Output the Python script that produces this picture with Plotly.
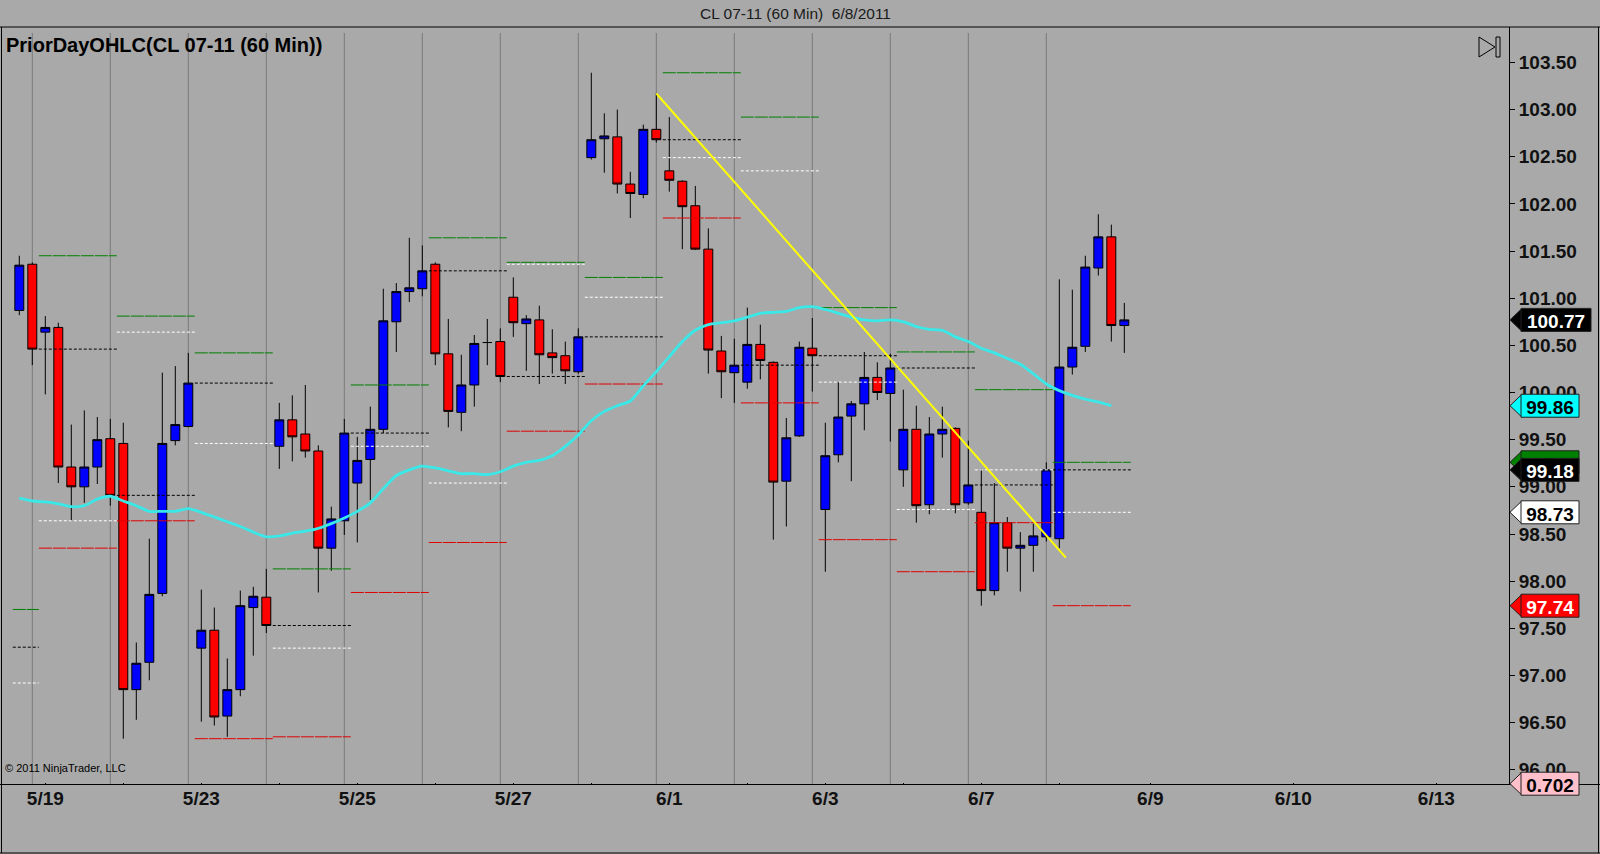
import plotly.graph_objects as go

# === DATA (CL 07-11, 60 min bars) ===
bar_open = [100.87, 101.36, 100.64, 100.69, 99.21, 99.00, 99.21, 99.51, 99.46, 96.85,
            97.14, 97.87, 99.49, 99.64, 97.29, 97.48, 96.57, 96.85, 97.72, 97.83,
            99.43, 99.71, 99.56, 99.38, 98.35, 98.64, 99.04, 99.29, 99.61, 100.75,
            101.07, 101.10, 101.36, 100.41, 99.79, 100.08, 100.53, 100.54, 101.01, 100.73,
            100.77, 100.42, 100.39, 100.22, 102.49, 102.69, 102.71, 102.21, 102.10, 102.79,
            102.35, 102.24, 101.98, 101.52, 100.44, 100.21, 100.11, 100.51, 100.32, 99.06,
            99.54, 100.47, 98.76, 99.34, 99.75, 99.88, 100.16, 99.99, 99.18, 99.61,
            98.81, 99.56, 99.62, 98.83, 98.73, 97.90, 98.62, 98.35, 98.38, 98.47,
            98.45, 100.27, 100.49, 101.32, 101.65, 100.71]
bar_high = [101.45, 101.38, 100.81, 100.74, 99.66, 99.81, 99.74, 99.72, 99.68, 97.35,
            98.45, 100.21, 100.28, 100.42, 97.91, 97.72, 97.18, 97.90, 97.94, 98.13,
            99.89, 99.97, 100.08, 99.44, 98.79, 99.72, 99.53, 99.85, 101.10, 101.16,
            101.64, 101.56, 101.38, 100.78, 100.40, 100.61, 100.78, 100.68, 101.22, 100.82,
            100.92, 100.67, 100.54, 100.68, 103.39, 102.96, 103.00, 102.34, 102.84, 103.17,
            102.92, 102.25, 102.19, 101.74, 100.60, 100.57, 100.90, 100.72, 100.33, 99.73,
            100.54, 100.79, 99.68, 100.11, 99.91, 100.43, 100.32, 100.41, 100.03, 99.86,
            99.74, 99.85, 99.63, 99.49, 99.19, 99.04, 98.68, 98.52, 98.61, 99.26,
            101.20, 101.09, 101.45, 101.89, 101.78, 100.95]
bar_low = [100.82, 100.29, 99.98, 99.04, 98.64, 98.83, 99.03, 98.80, 96.33, 96.53,
           96.95, 97.84, 99.44, 99.63, 96.51, 96.47, 96.35, 96.78, 97.21, 97.45,
           99.19, 99.27, 99.31, 97.88, 98.11, 98.49, 98.41, 98.86, 99.57, 100.43,
           100.96, 101.02, 100.29, 99.63, 99.59, 99.85, 100.29, 100.11, 100.59, 100.23,
           100.09, 100.20, 100.09, 100.20, 102.47, 102.33, 102.11, 101.85, 102.06, 102.65,
           102.13, 101.52, 101.51, 100.20, 99.94, 99.89, 100.04, 100.14, 98.44, 98.58,
           99.53, 100.01, 98.10, 99.26, 99.06, 99.60, 99.92, 99.48, 99.00, 98.62,
           98.71, 99.31, 98.72, 98.81, 97.74, 97.85, 98.10, 97.89, 98.10, 98.42,
           98.35, 100.19, 100.43, 101.24, 100.54, 100.42]
bar_close = [101.35, 100.46, 100.69, 99.21, 99.00, 99.21, 99.50, 98.91, 96.85, 97.13,
             97.86, 99.46, 99.66, 100.10, 97.48, 96.56, 96.85, 97.74, 97.84, 97.53,
             99.71, 99.53, 99.38, 98.35, 98.66, 99.57, 99.28, 99.61, 100.76, 101.07,
             101.11, 101.29, 100.41, 99.80, 100.08, 100.52, 100.53, 100.17, 100.74, 100.78,
             100.40, 100.37, 100.23, 100.59, 102.68, 102.72, 102.21, 102.11, 102.79, 102.68,
             102.25, 101.97, 101.52, 100.45, 100.22, 100.29, 100.51, 100.34, 99.05, 99.52,
             100.48, 100.39, 99.33, 99.74, 99.88, 100.16, 100.00, 100.26, 99.61, 98.80,
             99.56, 99.61, 98.81, 99.02, 97.90, 98.62, 98.35, 98.38, 98.48, 99.18,
             100.27, 100.48, 101.33, 101.65, 100.71, 100.77]
bar_idx = list(range(len(bar_close)))

# cyan moving average (bars 0..84)
ma_values = [98.88, 98.85, 98.84, 98.82, 98.79, 98.80, 98.87, 98.90, 98.85, 98.80,
             98.74, 98.74, 98.74, 98.77, 98.73, 98.68, 98.63, 98.58, 98.52, 98.47,
             98.48, 98.51, 98.53, 98.56, 98.61, 98.67, 98.74, 98.83, 98.98, 99.12,
             99.18, 99.22, 99.20, 99.17, 99.14, 99.14, 99.13, 99.16, 99.22, 99.26,
             99.28, 99.33, 99.43, 99.55, 99.70, 99.80, 99.86, 99.91, 100.07, 100.22,
             100.38, 100.54, 100.66, 100.72, 100.74, 100.76, 100.80, 100.84, 100.85, 100.86,
             100.90, 100.91, 100.88, 100.84, 100.80, 100.77, 100.76, 100.77, 100.75, 100.70,
             100.67, 100.66, 100.59, 100.54, 100.47, 100.42, 100.36, 100.30, 100.20, 100.09,
             100.02, 99.97, 99.93, 99.90, 99.86]

# PriorDayOHLC levels, one per session block (first block is partial)
prior_high = [97.70, 101.45, 100.81, 100.42, 98.13, 100.08, 101.64, 101.38, 101.22, 103.39,
              102.92, 100.90, 100.43, 100.03, 99.26]
prior_low = [None, 98.35, 98.64, 96.33, 96.35, 97.88, 98.41, 99.59, 100.09, 101.85,
             99.89, 98.44, 98.10, 98.62, 97.74]
prior_open = [96.92, 98.64, 100.64, 99.46, 97.29, 99.43, 99.04, 101.36, 101.01, 102.49,
              102.35, 100.11, 98.76, 99.18, 98.73]
prior_close = [97.30, 100.46, 98.91, 100.10, 97.53, 99.57, 101.29, 100.17, 100.59, 102.68,
               100.29, 100.39, 100.26, 99.02, 99.18]
block_start = [-0.5] + [1.5 + 6 * k for k in range(14)]
block_end = [1.5] + [7.5 + 6 * k for k in range(14)]

session_breaks = [1 + 6 * k for k in range(14)]

tick_pos = [2, 8, 14, 20, 26, 32, 38, 44, 50, 56, 62, 68, 74, 80, 87, 98, 109]
tick_text = ['5/19', '', '5/23', '', '5/25', '', '5/27', '', '6/1', '', '6/3', '', '6/7', '',
             '6/9', '6/10', '6/13']

trend_x = [49, 80.5]
trend_y = [103.17, 98.25]

marker_values = [100.77, 99.86, 99.26, 99.18, 98.73, 97.74]
marker_fill = ['black', '#00FFFF', '#008000', 'black', 'white', '#FF0000']
marker_font = ['white', 'black', 'white', 'white', 'black', 'white']

# ------------------------------------------------------------------ #
# layout geometry (pixels of the 1600x854 page)
# ------------------------------------------------------------------ #
BG = '#A9A9A9'
FONT = 'Liberation Sans, Arial, sans-serif'
PL, PR, PT, PB = 2, 1509, 27, 785
X_RANGE = [-1.331, 114.59]
Y_RANGE = [95.839, 103.875]
PX_PER_UNIT = (PB - PT) / (Y_RANGE[1] - Y_RANGE[0])


def px_x(px):
    return (px - PL) / (PR - PL)


def px_y(py):
    return (PB - py) / (PB - PT)


def segments(values):
    xs, ys = [], []
    for a, b, v in zip(block_start, block_end, values):
        if v is None:
            continue
        xs += [a, b, None]
        ys += [v, v, None]
    return xs, ys


fig = go.Figure()

fig.add_trace(go.Candlestick(
    x=bar_idx, open=bar_open, high=bar_high, low=bar_low, close=bar_close,
    increasing=dict(fillcolor='#0000FF', line=dict(color='black', width=1)),
    decreasing=dict(fillcolor='#FF0000', line=dict(color='black', width=1)),
    whiskerwidth=0, hoverinfo='skip', showlegend=False,
))

for vals, color, dash in [(prior_high, '#007F00', '13px,1px'),
                          (prior_low, '#E00000', '13px,1px'),
                          (prior_close, 'black', '3px,2px'),
                          (prior_open, 'white', '3px,2px')]:
    xs, ys = segments(vals)
    fig.add_trace(go.Scatter(x=xs, y=ys, mode='lines',
                             line=dict(color=color, width=1, dash=dash),
                             hoverinfo='skip', showlegend=False))

fig.add_trace(go.Scatter(x=bar_idx[:len(ma_values)], y=ma_values, mode='lines',
                         line=dict(color='#3AE8E8', width=2.8, shape='spline', smoothing=0.6),
                         hoverinfo='skip', showlegend=False))

fig.add_trace(go.Scatter(x=trend_x, y=trend_y, mode='lines',
                         line=dict(color='#FFFF00', width=2),
                         hoverinfo='skip', showlegend=False))

shapes = []
for s in session_breaks:
    shapes.append(dict(type='line', xref='x', yref='paper', x0=s, x1=s, y0=0, y1=px_y(33),
                       line=dict(color='#7A7A7A', width=1), layer='below'))

# frame lines
shapes.append(dict(type='line', xref='paper', yref='paper', x0=px_x(0), x1=px_x(1600),
                   y0=1, y1=1, line=dict(color='black', width=1)))
shapes.append(dict(type='line', xref='paper', yref='paper', x0=px_x(0), x1=px_x(1600),
                   y0=px_y(784.5), y1=px_y(784.5), line=dict(color='black', width=1)))
shapes.append(dict(type='line', xref='paper', yref='paper', x0=px_x(1.5), x1=px_x(1.5),
                   y0=px_y(853), y1=1, line=dict(color='black', width=1)))
shapes.append(dict(type='line', xref='paper', yref='paper', x0=px_x(0), x1=px_x(1600),
                   y0=px_y(853), y1=px_y(853), line=dict(color='black', width=1)))
shapes.append(dict(type='line', xref='paper', yref='paper', x0=px_x(1598.5), x1=px_x(1598.5),
                   y0=px_y(853), y1=1, line=dict(color='black', width=1)))

# "scroll to end" icon
shapes.append(dict(type='path', xref='paper', yref='paper',
                   path=f'M {px_x(1479)},{px_y(37)} L {px_x(1495)},{px_y(47)} L {px_x(1479)},{px_y(57)} Z',
                   line=dict(color='black', width=1), fillcolor='rgba(0,0,0,0)'))
shapes.append(dict(type='rect', xref='paper', yref='paper', x0=px_x(1496), x1=px_x(1500),
                   y0=px_y(57), y1=px_y(37), line=dict(color='black', width=1),
                   fillcolor='rgba(0,0,0,0)'))


def price_marker(text, yref, yc, half, fill, font_color, right=1579):
    tip = dict(type='path', xref='paper', yref=yref,
               path=(f'M {px_x(1510)},{yc} L {px_x(1522)},{yc + half} '
                     f'L {px_x(1522)},{yc - half} Z'),
               fillcolor=fill, line=dict(color='#202020', width=1), layer='above')
    box = dict(type='rect', xref='paper', yref=yref, x0=px_x(1521), x1=px_x(right),
               y0=yc - half, y1=yc + half, fillcolor=fill,
               line=dict(color='#202020', width=1), layer='above',
               label=dict(text=text, textposition='middle center',
                          font=dict(family=FONT, size=19, color=font_color, weight='bold')))
    return [tip, box]


half_unit = 11.5 / PX_PER_UNIT
for v, fill, fc in zip(marker_values, marker_fill, marker_font):
    right = 1591 if v >= 100 else 1579
    shapes += price_marker(f'{v:.2f}', 'y', v, half_unit, fill, fc, right)
shapes += price_marker('0.702', 'paper', px_y(783.7), 11.5 / (PB - PT), '#FFC0CB', 'black')

annotations = [
    dict(text='CL 07-11 (60 Min) \u00a06/8/2011', xref='paper', yref='paper',
         x=px_x(795), y=px_y(13.5), xanchor='center', yanchor='middle', showarrow=False,
         font=dict(family=FONT, size=15.5, color='#1A1A1A')),
    dict(text='PriorDayOHLC(CL 07-11 (60 Min))', xref='paper', yref='paper',
         x=px_x(4), y=px_y(45), xanchor='left', yanchor='middle', showarrow=False,
         font=dict(family=FONT, size=20, color='black', weight='bold')),
    dict(text='\u00a9 2011 NinjaTrader, LLC', xref='paper', yref='paper',
         x=px_x(3), y=px_y(768), xanchor='left', yanchor='middle', showarrow=False,
         font=dict(family=FONT, size=11, color='black')),
]

fig.update_layout(
    width=1600, height=854,
    margin=dict(l=PL, r=1600 - PR, t=PT, b=854 - PB, pad=0),
    paper_bgcolor=BG, plot_bgcolor=BG,
    showlegend=False,
    boxgap=0.17, boxgroupgap=0.17,
    shapes=shapes, annotations=annotations,
    hovermode=False,
    xaxis=dict(range=X_RANGE, rangeslider=dict(visible=False), showgrid=False, zeroline=False,
               showline=False, tickmode='array', tickvals=tick_pos, ticktext=tick_text,
               ticks='inside', ticklen=2, tickcolor='black',
               tickfont=dict(family=FONT, size=19, color='#111111', weight='bold')),
    yaxis=dict(range=Y_RANGE, side='right', showgrid=False, zeroline=False,
               showline=True, linecolor='black', linewidth=1,
               tick0=96, dtick=0.5, tickformat='.2f', ticks='outside', ticklen=5,
               tickcolor='black',
               tickfont=dict(family=FONT, size=19, color='#111111', weight='bold')),
)

fig.write_html("out.html", config=dict(displayModeBar=False),
               post_script="document.body.style.margin='0';")
